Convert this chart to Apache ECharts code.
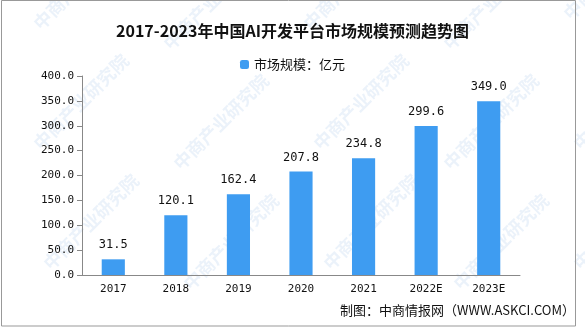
<!DOCTYPE html>
<html><head><meta charset="utf-8">
<script src="https://cdn.jsdelivr.net/npm/echarts@6/dist/echarts.min.js"></script>
<style>html,body{margin:0;padding:0;background:#fff}#c{width:585px;height:327px}</style>
</head><body><div id="c"></div>
<script>
const categories = ['2017','2018','2019','2020','2021','2022E','2023E'];
const values = [31.5, 120.1, 162.4, 207.8, 234.8, 299.6, 349.0];
const seriesName = '市场规模：亿元';
const titleText = '2017-2023年中国AI开发平台市场规模预测趋势图';

const chart = echarts.init(document.getElementById('c'));
const wm = [];
const wmPos = [[30,20],[160,40],[300,20],[440,40],[560,10],[30,140],[170,160],[310,140],[440,160],[570,140],[40,260],[180,280],[320,260],[450,280],[570,260]];
wmPos.forEach(p => wm.push({type:'text', x:p[0], y:p[1], rotation:Math.PI/4, z:-10,
  style:{text:'中商产业研究院', fill:'rgba(120,170,220,0.15)', font:'bold 18px "Noto Sans CJK SC"'}}));
chart.setOption({
  backgroundColor:'#fff',
  animation:false,
  title:{text:titleText, left:'center', top:18,
    textStyle:{fontFamily:'"Noto Sans CJK SC"', fontSize:16, fontWeight:'bold', color:'#111'}},
  legend:{data:[seriesName], top:53, left:'center', itemWidth:9, itemHeight:9, itemGap:5,
    textStyle:{fontFamily:'"Noto Sans CJK SC"', fontSize:13, color:'#111'}},
  grid:{left:82, right:65, top:76, bottom:52},
  xAxis:{type:'category', data:categories,
    axisLine:{lineStyle:{color:'#888'}}, axisTick:{lineStyle:{color:'#888'}, length:5},
    axisLabel:{fontFamily:'"DejaVu Sans Mono"', fontSize:11, color:'#111', margin:9}},
  yAxis:{type:'value', min:0, max:400, interval:50,
    axisLine:{show:true, lineStyle:{color:'#888'}}, axisTick:{show:true, lineStyle:{color:'#888'}, length:5},
    splitLine:{show:false},
    axisLabel:{fontFamily:'"DejaVu Sans Mono"', fontSize:11, color:'#111', margin:8,
      formatter:v=>v.toFixed(1)}},
  series:[{name:seriesName, type:'bar', data:values, barWidth:'37%',
    itemStyle:{color:'#3E9CF1'},
    label:{show:true, position:'top', distance:8, fontFamily:'"DejaVu Sans Mono"', fontSize:12, color:'#111',
      formatter:p=>p.value.toFixed(1)}}],
  graphic:[
    {type:'rect', shape:{x:1.5, y:0.5, width:574, height:325.5}, style:{fill:null, stroke:'#999', lineWidth:1}, z:100, silent:true},
    {type:'text', right:10, top:304, z:100,
      style:{text:'制图：中商情报网（WWW.ASKCI.COM）', fill:'#111', font:'13px "Noto Sans CJK SC"'}}
  ].concat(wm)
});
</script></body></html>
